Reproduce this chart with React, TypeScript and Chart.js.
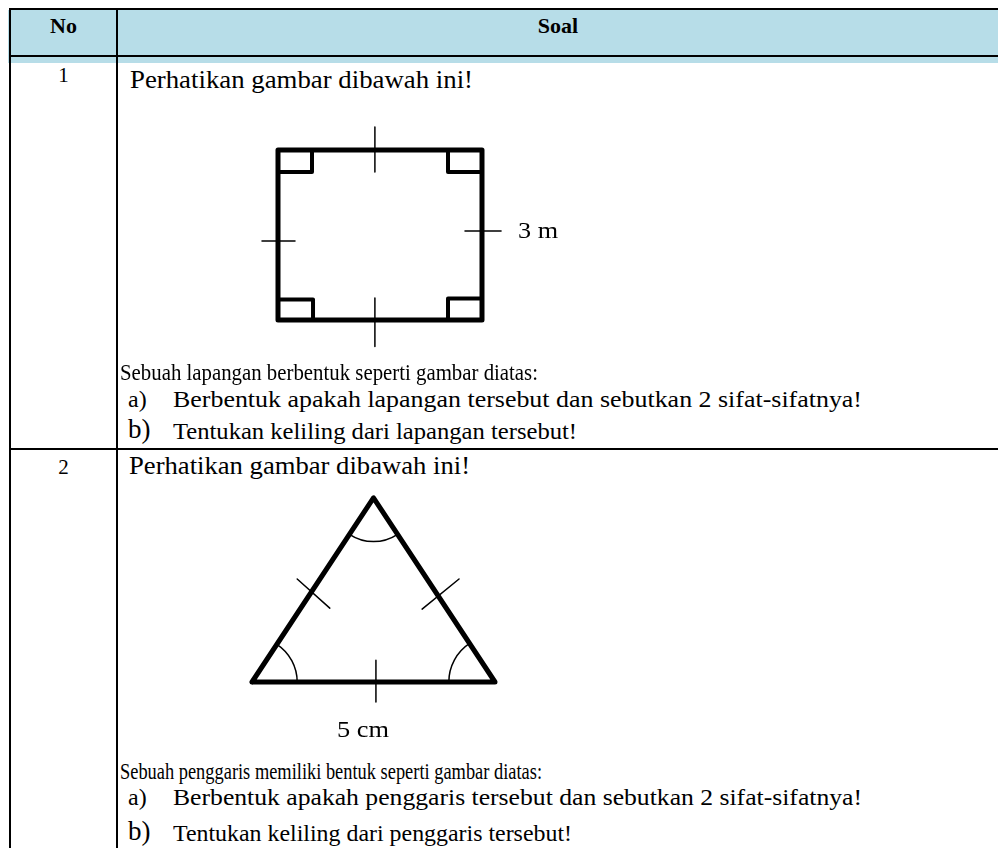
import React, { useEffect, useRef } from 'react';
import { Chart, registerables } from 'chart.js';
Chart.register(...registerables);

// ---------------- data ----------------
const headerLabels = ['No', 'Soal'];
const rowNumbers = ['1', '2'];
const q1Intro = 'Perhatikan gambar dibawah ini!';
const q1Context = 'Sebuah lapangan berbentuk seperti gambar diatas:';
const q1Items = ['Berbentuk apakah lapangan tersebut dan sebutkan 2 sifat-sifatnya!', 'Tentukan keliling dari lapangan tersebut!'];
const q2Intro = 'Perhatikan gambar dibawah ini!';
const q2Context = 'Sebuah penggaris memiliki bentuk seperti gambar diatas:';
const q2Items = ['Berbentuk apakah penggaris tersebut dan sebutkan 2 sifat-sifatnya!', 'Tentukan keliling dari penggaris tersebut!'];
const itemMarkers = ['a)', 'b)'];

type P = [number, number];
// figure 1 (square field), drawing units
const squareOutline: P[] = [[0, 0], [6, 0], [6, 5], [0, 5], [0, 0]];
const squareRightAngles: P[][] = [
  [[0, 4.35], [1, 4.35], [1, 5]],
  [[5, 5], [5, 4.35], [6, 4.35]],
  [[0, 0.6], [1.03, 0.6], [1.03, 0]],
  [[5, 0], [5, 0.63], [6, 0.63]],
];
const squareTicks: P[][] = [
  [[2.85, 4.35], [2.85, 5.68]],
  [[2.85, 0.65], [2.85, -0.78]],
  [[-0.47, 2.32], [0.5, 2.32]],
  [[5.5, 2.62], [6.56, 2.62]],
];
const squareLabel = '3 m';

// figure 2 (triangle ruler), drawing units
const triangleOutline: P[] = [[0, 0], [5, 0], [2.5, 3.79], [0, 0]];
const triangleTicks: P[][] = [
  [[0.93, 2.12], [1.6, 1.52]],
  [[3.5, 1.5], [4.26, 2.12]],
  [[2.55, 0.45], [2.55, -0.41]],
];
const triangleAngles: { v: P; a: P; b: P; r: number }[] = [
  { v: [0, 0], a: [5, 0], b: [2.5, 3.79], r: 0.93 },
  { v: [5, 0], a: [0, 0], b: [2.5, 3.79], r: 0.95 },
  { v: [2.5, 3.79], a: [0, 0], b: [5, 0], r: 0.9 },
];
const triangleLabel = '5 cm';

// ---------------- helpers ----------------
const FONT = '"Liberation Serif", "Times New Roman", serif';
const mctx = typeof document !== 'undefined' ? document.createElement('canvas').getContext('2d') : null;

function scaleFor(text: string, font: string, width?: number) {
  if (!mctx || !width) return 1;
  mctx.font = font;
  const w = mctx.measureText(text).width;
  return w > 0 ? width / w : 1;
}

function Txt(props: { text: string; x?: number; cx?: number; base: number; size: number; bold?: boolean; width?: number }) {
  const { text, x, cx, base, size, bold, width } = props;
  const font = `${bold ? 'bold ' : ''}${size}px ${FONT}`;
  const s = scaleFor(text, font, width);
  const top = base - 0.8375 * size;
  const style: React.CSSProperties = {
    position: 'absolute',
    top,
    fontFamily: FONT,
    fontSize: size,
    fontWeight: bold ? 'bold' : 'normal',
    lineHeight: `${size}px`,
    whiteSpace: 'nowrap',
    color: '#000',
  };
  if (cx !== undefined) {
    style.left = cx - 300;
    style.width = 600;
    style.textAlign = 'center';
  } else {
    style.left = x;
    if (s !== 1) {
      style.transform = `scaleX(${s})`;
      style.transformOrigin = 'left center';
    }
  }
  return <div style={style}>{text}</div>;
}

function line(points: P[], width: number) {
  return {
    data: points.map(([x, y]) => ({ x, y })),
    showLine: true,
    borderColor: '#000',
    backgroundColor: '#000',
    borderWidth: width,
    pointRadius: 0,
    pointHoverRadius: 0,
    fill: false,
    tension: 0,
    borderCapStyle: 'round',
    borderJoinStyle: 'round',
    clip: false,
  };
}

type Box = { left: number; top: number; w: number; h: number; k: number; ox: number; oy: number };

function Figure(props: { box: Box; datasets: any[]; plugins?: any[] }) {
  const ref = useRef<HTMLCanvasElement>(null);
  const { box } = props;
  useEffect(() => {
    const xmin = (box.left - box.ox) / box.k;
    const xmax = xmin + box.w / box.k;
    const ymax = (box.oy - box.top) / box.k;
    const ymin = ymax - box.h / box.k;
    const chart = new Chart(ref.current as HTMLCanvasElement, {
      type: 'scatter',
      data: { datasets: props.datasets },
      options: {
        animation: false,
        responsive: false,
        devicePixelRatio: 1,
        events: [],
        layout: { padding: 0 },
        scales: {
          x: { type: 'linear', min: xmin, max: xmax, display: false },
          y: { type: 'linear', min: ymin, max: ymax, display: false },
        },
        plugins: { legend: { display: false }, tooltip: { enabled: false }, title: { display: false } },
      } as any,
      plugins: props.plugins || [],
    });
    return () => chart.destroy();
  }, []);
  return (
    <canvas
      ref={ref}
      width={box.w}
      height={box.h}
      style={{ position: 'absolute', left: box.left, top: box.top, width: box.w, height: box.h }}
    />
  );
}

const anglePlugin = {
  id: 'angleArcs',
  afterDatasetsDraw(chart: any) {
    const { ctx, scales } = chart;
    const xs = scales.x, ys = scales.y;
    ctx.save();
    ctx.strokeStyle = '#000';
    ctx.lineWidth = 1.5;
    triangleAngles.forEach((m) => {
      const vx = xs.getPixelForValue(m.v[0]);
      const vy = ys.getPixelForValue(m.v[1]);
      const ax = xs.getPixelForValue(m.a[0]);
      const ay = ys.getPixelForValue(m.a[1]);
      const bx = xs.getPixelForValue(m.b[0]);
      const by = ys.getPixelForValue(m.b[1]);
      const r = Math.abs(xs.getPixelForValue(m.r) - xs.getPixelForValue(0));
      const a1 = Math.atan2(ay - vy, ax - vx);
      const a2 = Math.atan2(by - vy, bx - vx);
      let d = a2 - a1;
      while (d > Math.PI) d -= 2 * Math.PI;
      while (d < -Math.PI) d += 2 * Math.PI;
      ctx.beginPath();
      ctx.arc(vx, vy, r, a1, a1 + d, d < 0);
      ctx.stroke();
    });
    ctx.restore();
  },
};

function Rule(props: { left: number; top: number; w: number; h: number; color?: string }) {
  return (
    <div
      style={{
        position: 'absolute',
        left: props.left,
        top: props.top,
        width: props.w,
        height: props.h,
        background: props.color || '#000',
      }}
    />
  );
}

export default function App() {
  const box1: Box = { left: 244, top: 116, w: 289, h: 255, k: 34, ox: 278, oy: 320 };
  const box2: Box = { left: 222, top: 470, w: 306, h: 250, k: 48.6, ox: 252, oy: 682 };

  const ds1 = [
    line(squareOutline, 5),
    ...squareRightAngles.map((p) => line(p, 4)),
    ...squareTicks.map((p) => line(p, 1.5)),
  ];
  const ds2 = [line(triangleOutline, 5), ...triangleTicks.map((p) => line(p, 1.5))];

  return (
    <div
      style={{
        position: 'absolute',
        left: 0,
        top: 0,
        width: 998,
        height: 848,
        overflow: 'hidden',
        background: '#fff',
        fontFamily: FONT,
      }}
    >
      {/* header band */}
      <Rule left={8} top={10} w={990} h={53} color="#b7dde8" />
      <Rule left={9} top={8} w={989} h={2} />
      <Rule left={9} top={55} w={989} h={2} />
      <Rule left={9} top={8} w={2} h={840} />
      <Rule left={116} top={8} w={2} h={840} />
      <Rule left={9} top={448} w={989} h={2} />

      <Txt text={headerLabels[0]} cx={63.5} base={33} size={22} bold />
      <Txt text={headerLabels[1]} cx={558} base={33} size={22} bold />

      {/* row 1 */}
      <Txt text={rowNumbers[0]} cx={63.5} base={83} size={21} />
      <Txt text={q1Intro} x={130} base={88} size={25} width={343} />
      <Figure box={box1} datasets={ds1} />
      <Txt text={squareLabel} x={518} base={238} size={24} width={40} />
      <Txt text={q1Context} x={120} base={380} size={23} width={418} />
      <Txt text={itemMarkers[0]} x={128} base={407} size={24} />
      <Txt text={q1Items[0]} x={173} base={407} size={24} width={689} />
      <Txt text={itemMarkers[1]} x={128} base={439} size={27} />
      <Txt text={q1Items[1]} x={173} base={439} size={24} width={404} />

      {/* row 2 */}
      <Txt text={rowNumbers[1]} cx={63.5} base={475} size={21} />
      <Txt text={q2Intro} x={129} base={474} size={25} width={341} />
      <Figure box={box2} datasets={ds2} plugins={[anglePlugin]} />
      <Txt text={triangleLabel} x={337} base={737} size={24} width={52} />
      <Txt text={q2Context} x={120} base={779} size={23} width={422} />
      <Txt text={itemMarkers[0]} x={128} base={805} size={24} />
      <Txt text={q2Items[0]} x={173} base={805} size={24} width={689} />
      <Txt text={itemMarkers[1]} x={128} base={841} size={27} />
      <Txt text={q2Items[1]} x={173} base={841} size={24} width={399} />
    </div>
  );
}
